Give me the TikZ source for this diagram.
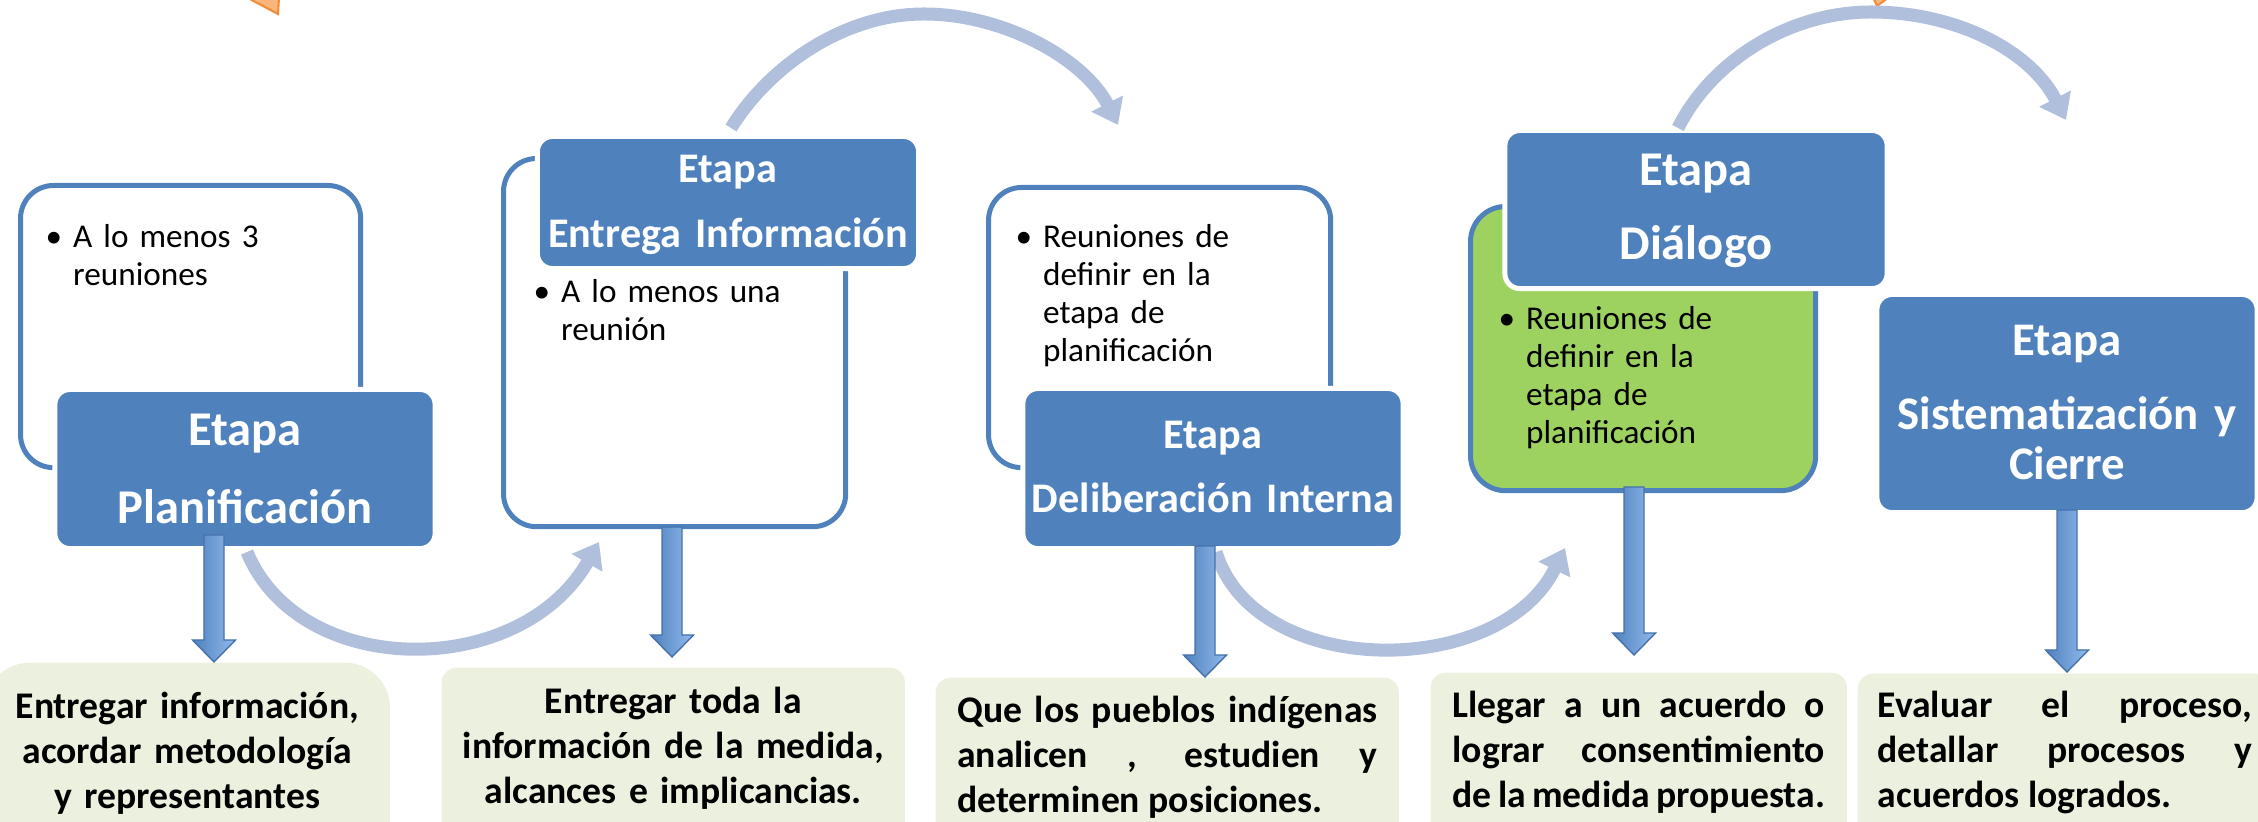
\documentclass[tikz,border=0pt]{standalone}
\usepackage{fontspec}
\setmainfont{Carlito}
\usetikzlibrary{arrows.meta,calc}

\definecolor{etapablue}{RGB}{79,129,189}
\definecolor{arcblue}{RGB}{176,192,220}
\definecolor{resgreen}{RGB}{235,241,222}
\definecolor{notegreen}{RGB}{158,210,96}
\definecolor{arrowlight}{RGB}{146,186,236}
\definecolor{arrowedge}{RGB}{70,114,172}
\definecolor{tiporange}{RGB}{250,182,122}
\definecolor{tipedge}{RGB}{240,140,60}

\newcommand{\titlefont}[1][12pt]{\fontsize{#1}{0.5cm}\selectfont\bfseries}
\newcommand{\notefont}{\fontsize{9.45pt}{0.38cm}\selectfont}
\newcommand{\resfont}{\fontsize{10.7pt}{0.45cm}\selectfont\bfseries}
\newcommand{\bl}{\phantom{\textbullet~}}

% fat down arrow from #1 to #2
\newcommand{\fatarrow}[2]{%
  \shadedraw[downarrow] let \p1=(#1), \p2=(#2) in
    (\x1-0.1cm,\y1) -- (\x1-0.1cm,\y2+0.22cm) -- (\x1-0.215cm,\y2+0.22cm) --
    (\x1,\y2) -- (\x1+0.215cm,\y2+0.22cm) -- (\x1+0.1cm,\y2+0.22cm) --
    (\x1+0.1cm,\y1) -- cycle;}

\begin{document}
\begin{tikzpicture}[x=0.01cm,y=-0.01cm,
  etapa/.style={rectangle,rounded corners=0.15cm,fill=etapablue,draw=white,line width=0.05cm,
    text=white,font=\titlefont,align=center,inner sep=0pt,text width=3.8cm,anchor=north},
  notebox/.style={rectangle,rounded corners=0.33cm,draw=etapablue,line width=0.05cm,fill=white,
    font=\notefont,align=left,inner ysep=0.4cm,anchor=north west},
  resbox/.style={rectangle,rounded corners=0.15cm,fill=resgreen,font=\resfont,
    inner ysep=0.3cm,text height=0.15cm,text depth=1.2cm,anchor=north west},
  flow/.style={arcblue,line width=0.13cm,-{Triangle[width=0.34cm,length=0.24cm]}},
  downarrow/.style={left color=etapablue,right color=arrowlight,draw=arrowedge,line width=0.4pt},
  orangetip/.style={fill=tiporange,draw=tipedge,line width=0.6pt}]
\useasboundingbox (0,0) rectangle (2258,822);
\clip (0,0) rectangle (2258,822);

% The orange tips at the top
\filldraw[orangetip] (246,-3) -- (279,-3) -- (278,14) -- cycle;
\filldraw[orangetip] (1873,-3) -- (1889,-3) -- (1877,6) -- cycle;

% Stage 1
\node[notebox,inner xsep=0.25cm,text width=2.90cm,text height=0.22cm,text depth=1.80cm] (note1) at (18,183)
  {\textbullet~A lo menos 3\\\bl reuniones};
\node[etapa,font={\titlefont[13.8pt]},text height=0.56cm,text depth=1.03cm] (plan) at (245,387) {Etapa\\[0.28cm]Planificación};

% Stage 2
\node[notebox,inner xsep=0.30cm,text width=2.82cm,text height=1.04cm,text depth=1.84cm] (note2) at (501,156)
  {\textbullet~A lo menos una\\\bl reunión};
\node[etapa,text width=3.81cm,text height=0.46cm,text depth=0.86cm] (entrega) at (728,134) {Etapa\\[0.15cm]Entrega Información};

% Stage 3
\node[notebox,inner xsep=0.27cm,text width=2.88cm,text height=0.20cm,text depth=1.80cm] (note3) at (986,185)
  {\textbullet~Reuniones de\\\bl definir en la\\\bl etapa de\\\bl planificación};
\node[etapa,text height=0.60cm,text depth=1.00cm] (delib) at (1213,386) {Etapa\\[0.14cm]Deliberación Interna};

% Stage 4
\node[notebox,fill=notegreen,rounded corners=0.35cm,inner xsep=0.28cm,text width=2.89cm,text height=0.83cm,text depth=1.21cm] (note4) at (1468,204)
  {\textbullet~Reuniones de\\\bl definir en la\\\bl etapa de\\\bl planificación};
\node[etapa,font={\titlefont[13.8pt]},text width=3.82cm,text height=0.55cm,text depth=1.03cm] (dialogo) at (1696,128) {Etapa\\[0.24cm]Diálogo};

% Stage 5
\node[etapa,font={\titlefont[13.3pt]},text height=0.61cm,text depth=1.57cm] (cierre) at (2067,292) {Etapa\\[0.24cm]Sistematización y\\Cierre};

% The results
\node[resbox,rounded corners=0.45cm,inner xsep=0.2cm,text width=3.65cm,align=center,text height=0.26cm] (res1) at (-16,662)
  {Entregar información,\\acordar metodología\\y representantes};
\node[resbox,inner xsep=0.2cm,text width=4.23cm,align=center,text height=0.16cm] (res2) at (441,667)
  {Entregar toda la\\información de la medida,\\alcances e implicancias.};
\node[resbox,inner xsep=0.215cm,text width=4.2cm,align=justify] (res3) at (935,677)
  {Que los pueblos indígenas\linebreak analicen , estudien y\linebreak determinen posiciones.};
\node[resbox,inner xsep=0.22cm,text width=3.72cm,align=justify] (res4) at (1430,672)
  {Llegar a un acuerdo o\linebreak lograr consentimiento\linebreak de la medida propuesta.};
\node[resbox,inner xsep=0.2cm,text width=3.74cm,align=justify,text height=0.14cm] (res5) at (1857,673)
  {Evaluar el proceso,\linebreak detallar procesos y\linebreak acuerdos logrados.};

% Curved arrows from stage to stage
\coordinate (plan-out) at (247,552);
\coordinate (entrega-in) at (599,542);
\coordinate (entrega-out) at (731,128);
\coordinate (delib-in) at (1118,125);
\coordinate (delib-out) at (1216,552);
\coordinate (dialogo-in) at (1565,548);
\coordinate (dialogo-out) at (1678,128);
\coordinate (cierre-in) at (2066,120);
\draw[flow] (plan-out) .. controls (300,680) and (520,680) .. (entrega-in);
\draw[flow] (entrega-out) .. controls (770,65) and (845,14) .. (924,14) .. controls (1005,14) and (1085,60) .. (delib-in);
\draw[flow] (delib-out) .. controls (1255,680) and (1500,680) .. (dialogo-in);
\draw[flow] (dialogo-out) .. controls (1712,60) and (1790,12) .. (1871,12) .. controls (1955,12) and (2030,50) .. (cierre-in);

% Down arrows to the results
\coordinate (d1s) at (214,535);  \coordinate (d1e) at (214,662);
\coordinate (d2s) at (672,527);  \coordinate (d2e) at (672,657);
\coordinate (d3s) at (1205,546); \coordinate (d3e) at (1205,677);
\coordinate (d4s) at (1634,487); \coordinate (d4e) at (1634,655);
\coordinate (d5s) at (2067,510); \coordinate (d5e) at (2067,672);
\fatarrow{d1s}{d1e}
\fatarrow{d2s}{d2e}
\fatarrow{d3s}{d3e}
\fatarrow{d4s}{d4e}
\fatarrow{d5s}{d5e}
\end{tikzpicture}
\end{document}
